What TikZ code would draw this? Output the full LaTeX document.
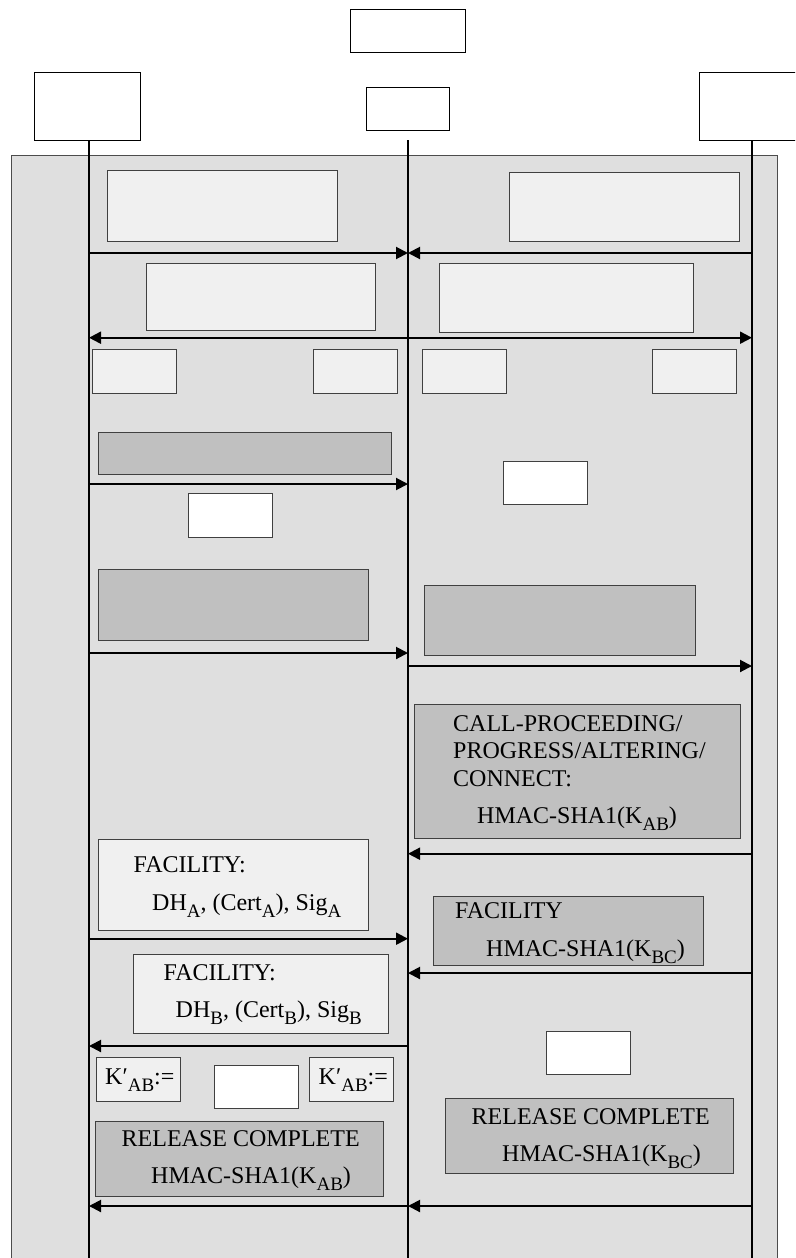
\documentclass[tikz,border=0pt]{standalone}
\usepackage{fontspec}
\setmainfont{Liberation Serif}
\usetikzlibrary{arrows.meta}
\definecolor{bggray}{HTML}{DFDFDF}
\definecolor{lightfill}{HTML}{F0F0F0}
\definecolor{darkfill}{HTML}{C0C0C0}
\tikzset{
  entity/.style={rectangle, draw, fill=white, line width=0.8pt, inner sep=0pt},
  lightbox/.style={rectangle, draw=black!75, fill=lightfill, line width=0.8pt, inner sep=0pt},
  darkbox/.style={rectangle, draw=black!75, fill=darkfill, line width=0.8pt, inner sep=0pt},
  blankbox/.style={rectangle, draw=black!75, fill=white, line width=0.8pt, inner sep=0pt},
  lifeline/.style={line width=1.5pt},
  msg/.style={-{Triangle[length=12pt, width=12pt]}, line width=2pt},
  dmsg/.style={{Triangle[length=12pt, width=12pt]}-{Triangle[length=12pt, width=12pt]}, line width=2pt},
  txt/.style={anchor=base west, inner sep=0pt, font=\fontsize{24}{27}\selectfont},
}
\newcommand{\subidx}[1]{\raisebox{-7pt}{\fontsize{19}{19}\selectfont #1}}

\begin{document}
\begin{tikzpicture}[x=1pt, y=-1pt]
  \clip (0,0) rectangle (795,1258);

  % Panel behind the message flow
  \fill[bggray] (11,155) rectangle (777.5,1270);
  \draw[black!70, line width=0.8pt] (11,1270) -- (11,155) -- (777.5,155) -- (777.5,1270);

  % Entities
  \node[entity, minimum width=115pt, minimum height=43pt] (top) at (407.5,30.5) {};
  \node[entity, minimum width=106pt, minimum height=68pt] (entA) at (87,106) {};
  \node[entity, minimum width=83pt, minimum height=43pt] (entB) at (407.5,108.5) {};
  \node[entity, minimum width=101pt, minimum height=68pt] (entC) at (749.5,106) {};

  % Lifelines
  \coordinate (lA) at (89,140);
  \coordinate (lB) at (408,140);
  \coordinate (lC) at (752,140);
  \foreach \l in {lA,lB,lC}
    \draw[lifeline] (\l) -- (\l |- 0,1260);

  % Upper boxes
  \node[lightbox, minimum width=230pt, minimum height=71pt] (p1) at (222,205.5) {};
  \node[lightbox, minimum width=230pt, minimum height=69pt] (p2) at (624,206.5) {};
  \node[lightbox, minimum width=229pt, minimum height=67pt] (p3) at (260.5,296.5) {};
  \node[lightbox, minimum width=254pt, minimum height=69pt] (p4) at (566,297.5) {};
  \node[lightbox, minimum width=84pt, minimum height=44pt] (s1) at (134,371) {};
  \node[lightbox, minimum width=84pt, minimum height=44pt] (s2) at (355.5,371) {};
  \node[lightbox, minimum width=84pt, minimum height=44pt] (s3) at (464.5,371) {};
  \node[lightbox, minimum width=84pt, minimum height=44pt] (s4) at (694.5,371) {};

  \node[darkbox, minimum width=293pt, minimum height=42pt] (d1) at (244.5,453) {};
  \node[blankbox, minimum width=84pt, minimum height=44pt] (w1) at (230,515) {};
  \node[blankbox, minimum width=84pt, minimum height=43pt] (w2) at (545,482.5) {};
  \node[darkbox, minimum width=270pt, minimum height=71pt] (d2) at (233,604.5) {};
  \node[darkbox, minimum width=271pt, minimum height=70pt] (d3) at (559.5,620) {};

  % Call proceeding
  \node[darkbox, minimum width=326pt, minimum height=134pt] (call) at (577,771) {};
  \node[txt] (callt1) at (453,731) {CALL-PROCEEDING/};
  \node[txt] (callt2) at (453,758) {PROGRESS/ALTERING/};
  \node[txt] (callt3) at (453,786) {CONNECT:};
  \node[txt] (callt4) at (477,823) {HMAC-SHA1(K\subidx{AB})};

  % Facility messages
  \node[lightbox, minimum width=270pt, minimum height=91pt] (facA) at (233,884.5) {};
  \node[txt] (facAt1) at (133.5,872) {FACILITY:};
  \node[txt] (facAt2) at (152,910) {DH\subidx{A}, (Cert\subidx{A}), Sig\subidx{A}};

  \node[darkbox, minimum width=270pt, minimum height=69pt] (facC) at (568,930.5) {};
  \node[txt] (facCt1) at (455,918) {FACILITY};
  \node[txt] (facCt2) at (486,956) {HMAC-SHA1(K\subidx{BC})};

  \node[lightbox, minimum width=255pt, minimum height=79pt] (facB) at (260.5,993.5) {};
  \node[txt] (facBt1) at (163.5,980) {FACILITY:};
  \node[txt] (facBt2) at (175.5,1017) {DH\subidx{B}, (Cert\subidx{B}), Sig\subidx{B}};

  % Key update
  \node[lightbox, minimum width=84pt, minimum height=44pt] (kA) at (138,1079) {};
  \node[txt] (kAt) at (105,1084) {K′\subidx{AB}:=};
  \node[blankbox, minimum width=84pt, minimum height=43pt] (w3) at (256,1086.5) {};
  \node[lightbox, minimum width=84pt, minimum height=44pt] (kB) at (351.75,1079) {};
  \node[txt] (kBt) at (318.5,1084) {K′\subidx{AB}:=};
  \node[blankbox, minimum width=84pt, minimum height=43pt] (w4) at (588,1052.5) {};

  % Release complete
  \node[darkbox, minimum width=288pt, minimum height=75pt] (relC) at (589,1135.5) {};
  \node[txt] (relCt1) at (471.5,1124) {RELEASE COMPLETE};
  \node[txt] (relCt2) at (502,1161) {HMAC-SHA1(K\subidx{BC})};
  \node[darkbox, minimum width=288pt, minimum height=75pt] (relA) at (239,1158.5) {};
  \node[txt] (relAt1) at (121.5,1146) {RELEASE COMPLETE};
  \node[txt] (relAt2) at (151,1183) {HMAC-SHA1(K\subidx{AB})};

  % Messages
  \foreach \y in {253,484,653,938.7}
    \draw[msg] (lA |- 0,\y) -- (lB |- 0,\y);
  \foreach \y in {253,853.7,973,1206}
    \draw[msg] (lC |- 0,\y) -- (lB |- 0,\y);
  \foreach \y in {1046,1206}
    \draw[msg] (lB |- 0,\y) -- (lA |- 0,\y);
  \draw[msg] (lB |- 0,666) -- (lC |- 0,666);
  \draw[dmsg] (lA |- 0,337.7) -- (lC |- 0,337.7);
\end{tikzpicture}
\end{document}
